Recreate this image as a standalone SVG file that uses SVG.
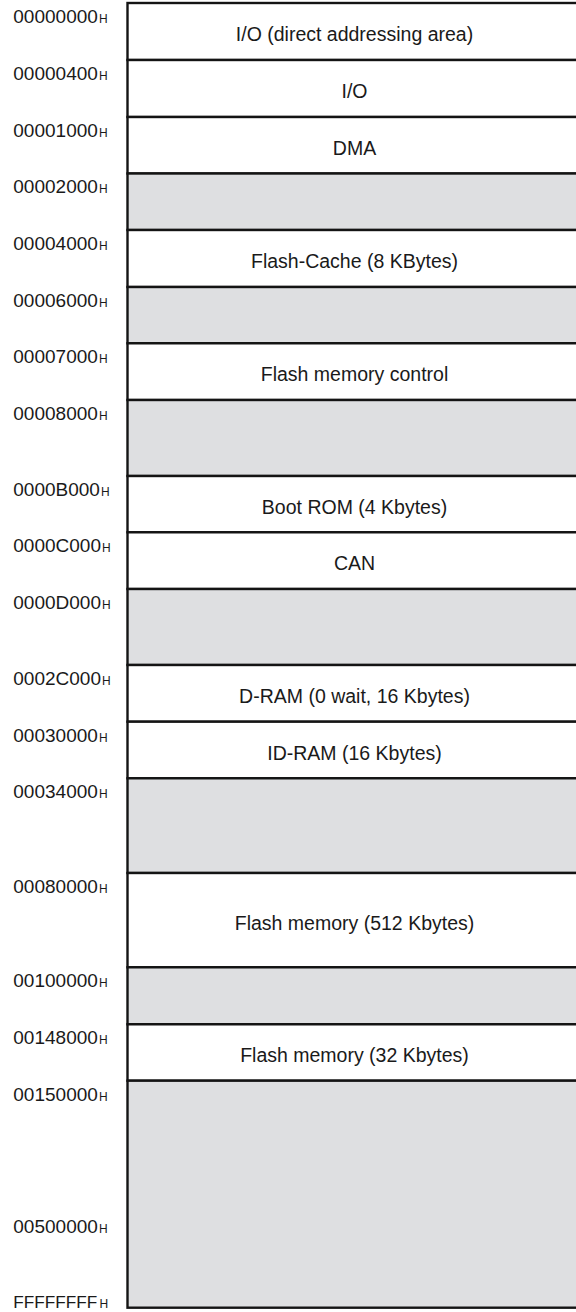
<svg xmlns="http://www.w3.org/2000/svg" width="576" height="1312" viewBox="0 0 576 1312">
<style>
.w{fill:#ffffff;stroke:#141414;stroke-width:2.4}
.g{fill:#dedfe1;stroke:#141414;stroke-width:2.4}
.t{font-family:"Liberation Sans",Arial,sans-serif;font-size:19.5px;fill:#1a1a1a;text-anchor:middle}
.a{font-family:"Liberation Sans",Arial,sans-serif;font-size:19px;fill:#1a1a1a}
.h{font-family:"Liberation Sans",Arial,sans-serif;font-size:12px;fill:#1a1a1a}
</style>
<rect width="576" height="1312" fill="#ffffff"/>
<g id="map">
<g id="r1"><rect class="w" x="127.5" y="3" width="460" height="57"/><text class="t" x="354.5" y="41">I/O (direct addressing area)</text></g>
<g id="r2"><rect class="w" x="127.5" y="60" width="460" height="57"/><text class="t" x="354.5" y="98">I/O</text></g>
<g id="r3"><rect class="w" x="127.5" y="117" width="460" height="56.5"/><text class="t" x="354.5" y="154.5">DMA</text></g>
<g id="r4"><rect class="g" x="127.5" y="173.5" width="460" height="56.5"/></g>
<g id="r5"><rect class="w" x="127.5" y="230" width="460" height="57"/><text class="t" x="354.5" y="268">Flash-Cache (8 KBytes)</text></g>
<g id="r6"><rect class="g" x="127.5" y="287" width="460" height="56.3"/></g>
<g id="r7"><rect class="w" x="127.5" y="343.3" width="460" height="56.7"/><text class="t" x="354.5" y="381">Flash memory control</text></g>
<g id="r8"><rect class="g" x="127.5" y="400" width="460" height="76"/></g>
<g id="r9"><rect class="w" x="127.5" y="476" width="460" height="56.3"/><text class="t" x="354.5" y="513.5">Boot ROM (4 Kbytes)</text></g>
<g id="r10"><rect class="w" x="127.5" y="532.3" width="460" height="56.7"/><text class="t" x="354.5" y="570">CAN</text></g>
<g id="r11"><rect class="g" x="127.5" y="589" width="460" height="76"/></g>
<g id="r12"><rect class="w" x="127.5" y="665" width="460" height="56.7"/><text class="t" x="354.5" y="702.5">D-RAM (0 wait, 16 Kbytes)</text></g>
<g id="r13"><rect class="w" x="127.5" y="721.7" width="460" height="56.6"/><text class="t" x="354.5" y="759.5">ID-RAM (16 Kbytes)</text></g>
<g id="r14"><rect class="g" x="127.5" y="778.3" width="460" height="94.7"/></g>
<g id="r15"><rect class="w" x="127.5" y="873" width="460" height="94.3"/><text class="t" x="354.5" y="929.5">Flash memory (512 Kbytes)</text></g>
<g id="r16"><rect class="g" x="127.5" y="967.3" width="460" height="57"/></g>
<g id="r17"><rect class="w" x="127.5" y="1024.3" width="460" height="56.4"/><text class="t" x="354.5" y="1061.5">Flash memory (32 Kbytes)</text></g>
<g id="r18"><rect class="g" x="127.5" y="1080.7" width="460" height="227"/></g>
</g>
<g id="addresses">
<text class="a" x="13.3" y="22.5">00000000</text><text class="h" x="99" y="22.5">H</text>
<text class="a" x="13.3" y="79.5">00000400</text><text class="h" x="99" y="79.5">H</text>
<text class="a" x="13.3" y="136.5">00001000</text><text class="h" x="99" y="136.5">H</text>
<text class="a" x="13.3" y="193">00002000</text><text class="h" x="99" y="193">H</text>
<text class="a" x="13.3" y="249.5">00004000</text><text class="h" x="99" y="249.5">H</text>
<text class="a" x="13.3" y="306.5">00006000</text><text class="h" x="99" y="306.5">H</text>
<text class="a" x="13.3" y="363">00007000</text><text class="h" x="99" y="363">H</text>
<text class="a" x="13.3" y="419.5">00008000</text><text class="h" x="99" y="419.5">H</text>
<text class="a" x="13.3" y="495.5">0000B000</text><text class="h" x="101" y="495.5">H</text>
<text class="a" x="13.3" y="552">0000C000</text><text class="h" x="102" y="552">H</text>
<text class="a" x="13.3" y="608.5">0000D000</text><text class="h" x="102" y="608.5">H</text>
<text class="a" x="13.3" y="684.5">0002C000</text><text class="h" x="102" y="684.5">H</text>
<text class="a" x="13.3" y="741.5">00030000</text><text class="h" x="99" y="741.5">H</text>
<text class="a" x="13.3" y="798">00034000</text><text class="h" x="99" y="798">H</text>
<text class="a" x="13.3" y="892.7">00080000</text><text class="h" x="99" y="892.7">H</text>
<text class="a" x="13.3" y="987">00100000</text><text class="h" x="99" y="987">H</text>
<text class="a" x="13.3" y="1044">00148000</text><text class="h" x="99" y="1044">H</text>
<text class="a" x="13.3" y="1101">00150000</text><text class="h" x="99" y="1101">H</text>
<text class="a" x="13.3" y="1233.3">00500000</text><text class="h" x="99" y="1233.3">H</text>
<text class="a" x="13.3" y="1307.5" style="font-size:17.2px">FFFFFFFF</text><text class="h" x="99.5" y="1307.5">H</text>
</g>
<g id="connectors"/>
</svg>
